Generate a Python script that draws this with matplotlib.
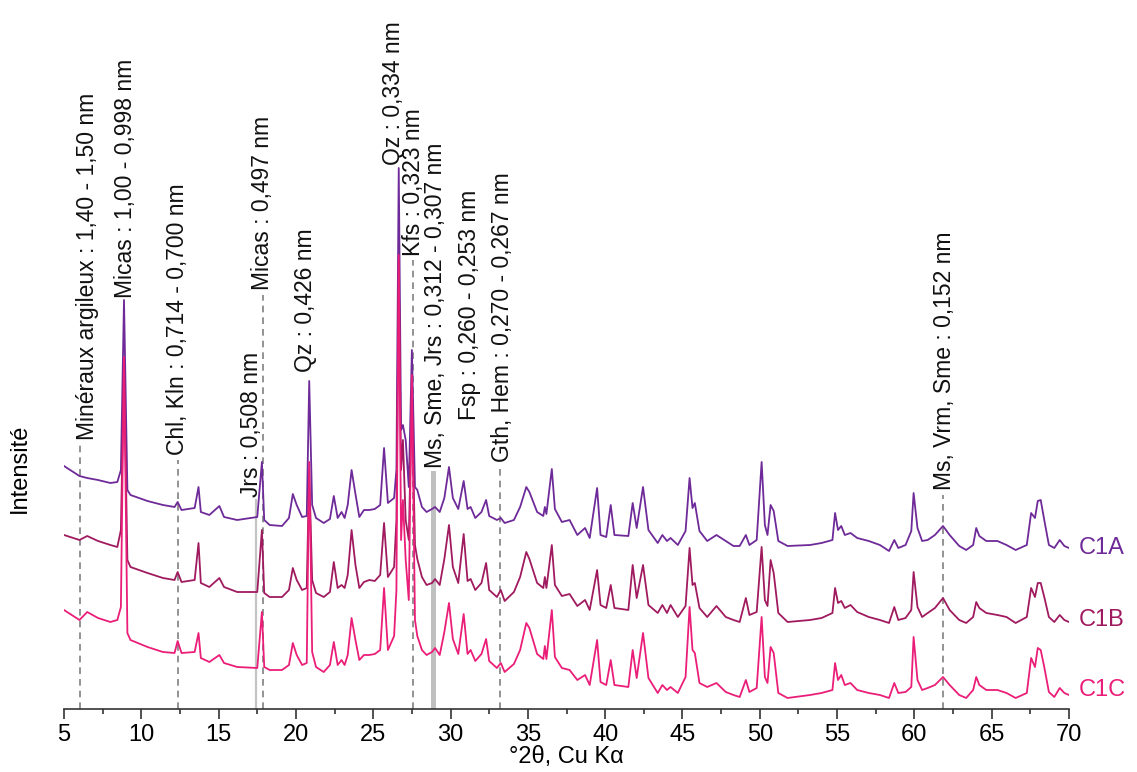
import matplotlib
matplotlib.use("Agg")
import matplotlib.pyplot as plt
from matplotlib.ticker import MultipleLocator

plt.rcParams['font.family'] = ['Liberation Sans', 'DejaVu Sans']

# diffractograms (2theta in degrees, intensity in a.u.)
two_theta = [
    5.0, 6.0, 6.5, 7.2, 8.0, 8.45, 8.68, 8.88, 9.1, 9.3, 10.4, 11.4, 12.15, 12.35, 12.6,
    13.45, 13.7, 13.85, 14.4, 15.05, 15.35, 16.2, 17.5, 17.8, 17.95, 18.3, 19.1, 19.55,
    19.8, 20.05, 20.4, 20.7, 20.86, 21.05, 21.3, 21.8, 22.2, 22.45, 22.7, 22.95, 23.15,
    23.35, 23.6, 23.85, 24.1, 24.4, 24.75, 25.1, 25.45, 25.7, 25.95, 26.35, 26.5, 26.65,
    26.8, 26.92, 27.1, 27.3, 27.5, 27.7, 27.85, 28.15, 28.45, 28.8, 29.0, 29.3, 29.6,
    29.9, 30.15, 30.5, 30.85, 31.1, 31.3, 31.6, 32.0, 32.3, 32.5, 33.0, 33.25, 33.5,
    34.1, 34.5, 34.9, 35.1, 35.6, 36.0, 36.1, 36.2, 36.55, 36.75, 37.2, 37.7, 38.2,
    38.7, 39.0, 39.48, 39.7, 40.07, 40.36, 40.6, 41.5, 41.78, 42.04, 42.45, 42.8, 43.4,
    43.7, 44.0, 44.23, 44.7, 45.2, 45.46, 45.65, 45.8, 46.1, 46.6, 47.2, 47.8, 48.3,
    48.7, 49.1, 49.33, 49.8, 50.12, 50.33, 50.5, 50.7, 50.9, 51.2, 51.8, 53.25, 54.0,
    54.7, 54.87, 55.06, 55.27, 55.5, 55.87, 56.3, 57.05, 57.77, 58.36, 58.7, 58.96,
    59.43, 59.8, 59.95, 60.2, 60.5, 60.86, 61.33, 61.85, 62.28, 62.9, 63.35, 63.8, 64.0,
    64.2, 64.65, 65.37, 65.96, 66.55, 67.27, 67.55, 67.8, 67.98, 68.17, 68.4, 68.7,
    69.05, 69.4, 69.7, 70.0,
]

c1a = [
    243, 233, 231, 229, 226, 227, 239, 409, 219, 214, 208, 204, 202, 207, 199,
    201, 222, 197, 194, 203, 192, 189, 192, 247, 189, 184, 183, 191,
    215, 204, 192, 193, 328, 204, 191, 186, 190, 213, 191, 197, 191,
    204, 239, 215, 192, 199, 199, 200, 204, 261, 206, 211, 239, 541,
    279, 284, 269, 222, 359, 222, 219, 202, 197, 200, 202, 197, 211,
    242, 211, 200, 228, 200, 202, 191, 197, 209, 193, 189, 191, 186,
    189, 202, 222, 217, 197, 193, 202, 195, 240, 200, 187, 189, 174,
    181, 171, 221, 174, 172, 204, 174, 173, 206, 181, 222, 179, 166,
    174, 168, 171, 164, 178, 231, 201, 206, 178, 168, 174, 168, 163,
    163, 174, 164, 169, 247, 184, 174, 204, 198, 168, 163, 164, 166,
    169, 196, 179, 183, 174, 176, 171, 168, 164, 158, 169, 161,
    164, 178, 216, 181, 168, 169, 174, 183, 174, 163, 159, 164, 181,
    173, 168, 168, 164, 159, 164, 196, 191, 208, 209, 189, 164,
    161, 169, 163, 161,
]

c1b = [
    174, 169, 173, 168, 164, 162, 179, 344, 149, 142, 136, 131, 129, 137, 127,
    129, 166, 126, 122, 131, 122, 117, 117, 179, 116, 112, 112, 119,
    141, 129, 119, 121, 239, 129, 116, 112, 117, 147, 121, 124, 121,
    134, 179, 144, 121, 127, 129, 128, 134, 186, 132, 142, 189, 447,
    239, 269, 189, 169, 314, 164, 150, 132, 124, 126, 130, 124, 150,
    184, 142, 126, 175, 128, 130, 119, 126, 146, 119, 112, 119, 108,
    117, 132, 157, 150, 126, 121, 132, 121, 164, 124, 113, 115, 103,
    109, 99, 139, 104, 101, 124, 101, 99, 144, 111, 144, 104, 96,
    104, 96, 104, 92, 103, 161, 124, 126, 101, 92, 103, 92, 89,
    87, 111, 94, 97, 162, 109, 103, 149, 136, 96, 87, 89, 91,
    96, 121, 106, 108, 101, 104, 97, 92, 89, 86, 102, 89,
    91, 99, 137, 102, 92, 96, 101, 111, 99, 89, 86, 92, 107,
    101, 96, 94, 92, 86, 92, 121, 112, 126, 126, 112, 92,
    87, 94, 89, 87,
]

c1c = [
    99, 89, 97, 91, 87, 89, 102, 352, 76, 69, 62, 57, 56, 68, 56,
    57, 76, 51, 47, 54, 46, 42, 41, 97, 42, 39, 39, 44,
    66, 54, 44, 46, 247, 57, 42, 37, 44, 67, 44, 49, 44,
    54, 91, 69, 49, 54, 54, 55, 59, 121, 59, 73, 119, 454,
    169, 209, 149, 109, 334, 89, 73, 59, 54, 57, 61, 54, 77,
    106, 70, 55, 95, 55, 59, 48, 55, 70, 48, 41, 46, 37,
    45, 59, 86, 81, 55, 50, 63, 50, 99, 52, 41, 39, 29,
    34, 24, 69, 27, 24, 49, 24, 22, 59, 31, 76, 31, 16,
    24, 19, 22, 16, 32, 102, 59, 56, 26, 22, 26, 17, 14,
    12, 29, 17, 21, 92, 32, 26, 62, 56, 16, 11, 14, 16,
    19, 46, 29, 34, 24, 26, 19, 16, 14, 11, 26, 16,
    17, 22, 72, 29, 19, 21, 24, 32, 24, 14, 11, 19, 32,
    24, 19, 19, 16, 11, 16, 51, 42, 61, 59, 42, 17,
    12, 21, 16, 14,
]

sample_names = ["C1A", "C1B", "C1C"]
sample_colors = ["#6e2a98", "#a01a5f", "#ea1e78"]
name_levels = [161, 89, 19]

# mineral annotations
peak_labels = [
    "Minéraux argileux : 1,40 - 1,50 nm",
    "Micas : 1,00 - 0,998 nm",
    "Chl, Kln : 0,714 - 0,700 nm",
    "Jrs : 0,508 nm",
    "Micas : 0,497 nm",
    "Qz : 0,426 nm",
    "Qz : 0,334 nm",
    "Kfs : 0,323 nm",
    "Ms, Sme, Jrs : 0,312 - 0,307 nm",
    "Fsp : 0,260 - 0,253 nm",
    "Gth, Hem : 0,270 - 0,267 nm",
    "Ms, Vrm, Sme : 0,152 nm",
]
label_x = [6.55, 9.0, 12.31, 17.1, 17.87, 20.6, 26.28, 27.58, 29.02, 31.2, 33.33, 61.92]
label_y = [269, 411, 254, 212, 419, 337, 544, 453, 241, 289, 247, 219]

dashed_x = [6.05, 12.35, 17.85, 27.6, 33.2, 61.88]
dashed_top = [264, 249, 414, 449, 243, 214]
jrs_x, jrs_top = 17.45, 209
band_x, band_top = (28.75, 29.05), 238

fig = plt.figure(figsize=(11.37, 7.72), dpi=100)
ax = fig.add_axes([64 / 1137, 63 / 772, 1005 / 1137, 709 / 772])

# reference lines behind the patterns
for x, top in zip(dashed_x, dashed_top):
    ax.plot([x, x], [0, top], color="#808080", lw=1.2, dashes=(4, 3), zorder=1)
ax.plot([jrs_x, jrs_x], [0, jrs_top], color="#c4c4c4", lw=1.6, zorder=1)
ax.fill_between(band_x, 0, band_top, color="#c0c0c0", lw=0, zorder=1)

for values, name, color, level in zip([c1a, c1b, c1c], sample_names, sample_colors, name_levels):
    ax.plot(two_theta, values, color=color, lw=1.3, zorder=2)
    ax.text(70.65, level, name, color=color, fontsize=17, va="center", ha="left", clip_on=False)

for text, x, y in zip(peak_labels, label_x, label_y):
    ax.text(x, y, text, rotation=90, ha="center", va="bottom", fontsize=16.5, color="#111111")

ax.set_xlim(5, 70)
ax.set_ylim(0, 709)
ax.xaxis.set_major_locator(MultipleLocator(5))
ax.xaxis.set_minor_locator(MultipleLocator(2.5))
ax.tick_params(axis="x", which="major", length=7, width=1.2, labelsize=17, pad=4, color="#333333")
ax.tick_params(axis="x", which="minor", length=3.5, width=1.2, color="#333333")
ax.set_yticks([])
for side in ["left", "right", "top"]:
    ax.spines[side].set_visible(False)
ax.spines["bottom"].set_linewidth(1.2)
ax.spines["bottom"].set_color("#333333")
ax.set_xlabel("°2θ, Cu Kα", fontsize=17, labelpad=0)
ax.patch.set_alpha(0)

fig.text(20 / 1137, 1 - 468 / 772, "Intensité", rotation=90, ha="center", va="center", fontsize=17)

fig.savefig("out.png", dpi=100)
